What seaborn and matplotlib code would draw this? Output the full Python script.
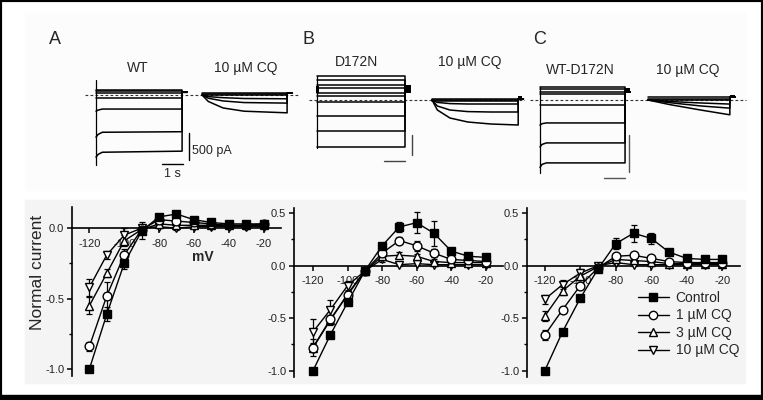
import matplotlib
matplotlib.use("Agg")
import matplotlib.pyplot as plt
from matplotlib.patches import Rectangle
from matplotlib.lines import Line2D
from matplotlib.ticker import MultipleLocator, FormatStrFormatter
import pandas as pd
import seaborn as sns

W, H = 763, 400

# ---------------- I-V data (normalised current) ----------------
mv = [-120, -110, -100, -90, -80, -70, -60, -50, -40, -30, -20]
groups = ["Control", "1 \u00b5M CQ", "3 \u00b5M CQ", "10 \u00b5M CQ"]

wt_ctrl = [-1.00, -0.61, -0.25, -0.02, 0.08, 0.10, 0.06, 0.04, 0.03, 0.03, 0.03]
wt_cq1 = [-0.84, -0.48, -0.19, -0.01, 0.06, 0.05, 0.04, 0.03, 0.02, 0.02, 0.03]
wt_cq3 = [-0.55, -0.32, -0.09, -0.01, 0.03, 0.02, 0.02, 0.02, 0.02, 0.02, 0.02]
wt_cq10 = [-0.42, -0.19, -0.05, 0.00, 0.01, 0.00, 0.01, 0.01, 0.01, 0.01, 0.01]
wt_ctrl_err = [0.00, 0.05, 0.04, 0.06, 0.02, 0.02, 0.02, 0.01, 0.01, 0.01, 0.01]
wt_cq1_err = [0.03, 0.10, 0.04, 0.02, 0.02, 0.02, 0.01, 0.01, 0.01, 0.01, 0.01]
wt_cq3_err = [0.06, 0.03, 0.04, 0.02, 0.01, 0.01, 0.01, 0.01, 0.01, 0.01, 0.01]
wt_cq10_err = [0.06, 0.03, 0.05, 0.02, 0.01, 0.01, 0.01, 0.01, 0.01, 0.01, 0.01]

dn_ctrl = [-1.00, -0.66, -0.35, -0.05, 0.19, 0.37, 0.41, 0.31, 0.14, 0.09, 0.08]
dn_cq1 = [-0.78, -0.51, -0.28, -0.05, 0.12, 0.24, 0.19, 0.12, 0.06, 0.05, 0.04]
dn_cq3 = [-0.78, -0.52, -0.27, -0.05, 0.09, 0.10, 0.09, 0.04, 0.03, 0.03, 0.03]
dn_cq10 = [-0.63, -0.42, -0.19, -0.05, 0.06, 0.01, 0.02, 0.01, 0.01, 0.01, 0.01]
dn_ctrl_err = [0.00, 0.03, 0.02, 0.02, 0.03, 0.05, 0.10, 0.12, 0.03, 0.02, 0.02]
dn_cq1_err = [0.04, 0.04, 0.03, 0.02, 0.03, 0.03, 0.05, 0.04, 0.02, 0.02, 0.02]
dn_cq3_err = [0.08, 0.04, 0.03, 0.02, 0.03, 0.03, 0.02, 0.02, 0.01, 0.01, 0.01]
dn_cq10_err = [0.12, 0.09, 0.04, 0.02, 0.02, 0.01, 0.01, 0.01, 0.01, 0.01, 0.01]

het_ctrl = [-1.00, -0.63, -0.31, -0.03, 0.21, 0.31, 0.26, 0.13, 0.07, 0.06, 0.06]
het_cq1 = [-0.66, -0.42, -0.19, -0.02, 0.09, 0.10, 0.07, 0.04, 0.03, 0.03, 0.03]
het_cq3 = [-0.48, -0.24, -0.10, -0.01, 0.06, 0.05, 0.04, 0.02, 0.02, 0.02, 0.02]
het_cq10 = [-0.32, -0.18, -0.07, 0.00, 0.03, 0.01, 0.01, 0.01, 0.01, 0.01, 0.01]
het_ctrl_err = [0.00, 0.02, 0.02, 0.02, 0.05, 0.08, 0.05, 0.02, 0.02, 0.01, 0.01]
het_cq1_err = [0.05, 0.03, 0.03, 0.02, 0.02, 0.02, 0.02, 0.01, 0.01, 0.01, 0.01]
het_cq3_err = [0.05, 0.04, 0.04, 0.02, 0.01, 0.01, 0.01, 0.01, 0.01, 0.01, 0.01]
het_cq10_err = [0.04, 0.04, 0.04, 0.02, 0.01, 0.01, 0.01, 0.01, 0.01, 0.01, 0.01]

markers = ["s", "o", "^", "v"]
faces = ["black", "white", "white", "white"]

# ---------------- current traces (nA vs s) ----------------
# WT, control: samples at these times
wt_t = [0, 0.1, 0.3, 4.1]
wt_sweeps = [[0.10] * 4, [0.07] * 4, [0.04] * 4, [-0.06] * 4,
             [-0.30, -0.28, -0.26, -0.26],
             [-0.78, -0.73, -0.69, -0.68],
             [-1.15, -1.10, -1.06, -1.04]]
wt_tail = 0.05
wt_cap = [0.28, -1.30]
# WT, 10 uM CQ
wtcq_t = [0, 0.3, 1.0, 2.0, 4.05]
wtcq_sweeps = [[0.04] * 5, [0.02] * 5, [0.0] * 5,
               [0, -0.03, -0.05, -0.065, -0.07],
               [0, -0.06, -0.11, -0.14, -0.15],
               [0, -0.12, -0.24, -0.30, -0.33]]
wtcq_tail = 0.04

# D172N, control
dn_t = [0, 4.19]
dn_levels = [0.60, 0.50, 0.375, 0.30, 0.175, 0.10, -0.05, -0.40, -0.775, -1.175]
dn_tail = 0.30
dn_cap = [0.60, -1.20]
# D172N, 10 uM CQ
dncq_t = [0, 0.25, 0.85, 1.7, 2.8, 4.1]
dncq_sweeps = [[0.025] * 6, [0.0] * 6, [-0.02] * 6,
               [0, -0.06, -0.09, -0.10, -0.10, -0.10],
               [0, -0.15, -0.25, -0.29, -0.30, -0.30],
               [0, -0.25, -0.45, -0.55, -0.60, -0.625]]
dncq_tail = 0.03

# WT-D172N, control
het_t = [0, 0.1, 0.3, 4.05]
het_sweeps = [[0.176] * 4, [0.149] * 4, [0.108] * 4, [0.081] * 4, [-0.068] * 4,
              [-0.34, -0.32, -0.31, -0.31],
              [-0.635, -0.60, -0.58, -0.58],
              [-0.91, -0.87, -0.85, -0.85]]
het_tail = 0.11
het_cap = [0.176, -0.99]
# WT-D172N, 10 uM CQ
hetcq_t = [0, 1.0, 2.5, 3.9]
hetcq_sweeps = [[0.04] * 4, [0.02] * 4, [0.0] * 4,
                [0, -0.02, -0.04, -0.055],
                [0, -0.035, -0.08, -0.11],
                [0, -0.06, -0.135, -0.20]]
hetcq_tail = 0.04


def box(x0, y0, x1, y1):
    """pixel box (top-left origin) -> figure fraction rect"""
    return [x0 / W, 1 - y1 / H, (x1 - x0) / W, (y1 - y0) / H]


sns.set_style("ticks")
plt.rcParams["font.family"] = ["Liberation Sans", "DejaVu Sans"]
plt.rcParams["axes.unicode_minus"] = False

fig = plt.figure(figsize=(W / 100, H / 100), dpi=100)
fig.patch.set_facecolor("white")
fig.add_artist(Rectangle((25 / W, 1 - 190 / H), 720 / W, 177 / H,
                         transform=fig.transFigure, color="#fcfcfc", zorder=-10))
fig.add_artist(Rectangle((25 / W, 1 - 383 / H), 720 / W, 183 / H,
                         transform=fig.transFigure, color="#f4f4f4", zorder=-10))


# ---------------- traces ----------------
def trace_axes(x0, x1, t0x, zero_y, pps, ppn):
    ax = fig.add_axes(box(x0, 45, x1, 190))
    ax.set_xlim((x0 - t0x) / pps, (x1 - t0x) / pps)
    ax.set_ylim((zero_y - 190) / ppn, (zero_y - 45) / ppn)
    ax.axis("off")
    return ax


def draw_traces(ax, t, sweeps, tail, offset=0.0):
    rows = []
    for k, s in enumerate(sweeps):
        tt = list(t) + [t[-1], t[-1] + 0.25]
        ii = list(s) + [tail, tail]
        for a, b in zip(tt, ii):
            rows.append({"t": a + offset, "I": b, "sweep": k})
    df = pd.DataFrame(rows)
    sns.lineplot(data=df, x="t", y="I", units="sweep", estimator=None, sort=False,
                 color="black", lw=1.1, ax=ax, legend=False)


def scale_bars(ax, tx, i_top, ty, t_left, color):
    ax.plot([tx, tx], [i_top, i_top - 0.5], color=color, lw=1)
    ax.plot([t_left, t_left + 1.0], [ty, ty], color=color, lw=1)


def zero_line(ax, t_from, t_to):
    ax.plot([t_from, t_to], [0, 0], color="#333333", lw=0.8, ls=(0, (2.5, 2)))


axA = trace_axes(80, 300, 96, 95, 21, 54)
zero_line(axA, -0.52, 9.7)
draw_traces(axA, wt_t, wt_sweeps, wt_tail)
axA.plot([0, 0], wt_cap, color="black", lw=0.9)
draw_traces(axA, wtcq_t, wtcq_sweeps, wtcq_tail, offset=5.05)
scale_bars(axA, 4.43, -0.70, -1.28, 3.14, "black")
axA.text(4.55, -1.03, "500 pA", fontsize=9, ha="left", va="center")
axA.text(3.64, -1.47, "1 s", fontsize=9, ha="center", va="center")

axB = trace_axes(300, 525, 317, 100, 21, 40)
zero_line(axB, -0.4, 9.9)
draw_traces(axB, dn_t, [[v, v] for v in dn_levels], dn_tail)
axB.plot([0, 0], dn_cap, color="black", lw=0.9)
axB.fill_between([-0.05, 0.08], 0.175, 0.35, color="black", lw=0)
axB.fill_between([4.19, 4.48], 0.175, 0.375, color="black", lw=0)
draw_traces(axB, dncq_t, dncq_sweeps, dncq_tail, offset=5.48)
axB.fill_between([9.58, 9.78], 0.0, 0.1, color="black", lw=0)
scale_bars(axB, 4.52, -0.875, -1.525, 3.19, "#444444")

axC = trace_axes(525, 750, 540, 100, 21, 74)
zero_line(axC, -0.5, 9.8)
draw_traces(axC, het_t, het_sweeps, het_tail)
axC.plot([0, 0], het_cap, color="black", lw=0.9)
axC.fill_between([4.05, 4.29], 0.09, 0.16, color="black", lw=0)
draw_traces(axC, hetcq_t, hetcq_sweeps, hetcq_tail, offset=5.14)
axC.fill_between([9.04, 9.28], 0.03, 0.07, color="black", lw=0)
scale_bars(axC, 4.24, -0.47, -1.05, 3.05, "#555555")

# panel letters and trace titles
for x, y, s in [(49, 39, "A"), (303, 40, "B"), (533, 40, "C")]:
    fig.text(x / W, 1 - y / H, s, fontsize=13, ha="left", va="center")
for x, y, s in [(138, 68, "WT"), (246, 68, "10 \u00b5M CQ"),
                (357, 62, "D172N"), (470, 62, "10 \u00b5M CQ"),
                (580, 70, "WT-D172N"), (688, 70, "10 \u00b5M CQ")]:
    fig.text(x / W, 1 - y / H, s, fontsize=10, ha="center", va="center")


# ---------------- I-V plots ----------------
def iv_axes(x0, y0, x1, y1, xlim, ylim, yticks):
    ax = fig.add_axes(box(x0, y0, x1, y1))
    ax.set_facecolor("none")
    ax.set_xlim(*xlim)
    ax.set_ylim(*ylim)
    for side in ["top", "right"]:
        ax.spines[side].set_visible(False)
    ax.spines["bottom"].set_position(("data", 0))
    for side in ["left", "bottom"]:
        ax.spines[side].set_linewidth(1.2)
        ax.spines[side].set_color("black")
    ax.set_xticks([-120, -100, -80, -60, -40, -20])
    ax.set_yticks(yticks)
    ax.yaxis.set_minor_locator(MultipleLocator(0.25))
    ax.yaxis.set_major_formatter(FormatStrFormatter("%.1f"))
    ax.tick_params(which="major", direction="out", length=3.5, width=1.1,
                   labelsize=8, pad=2, color="black", labelcolor="#222222")
    ax.tick_params(which="minor", direction="out", length=2, width=1, color="black")
    ax.tick_params(axis="x", pad=4)
    ax.set_xlabel("")
    ax.set_ylabel("")
    return ax


def draw_iv(ax, series, errs):
    order = [3, 2, 1, 0]
    for k in order:
        df = pd.DataFrame({"mV": mv, "I": series[k]})
        ax.errorbar(mv, series[k], yerr=errs[k], fmt="none", ecolor="black",
                    elinewidth=0.9, capsize=2.5, capthick=0.9, zorder=2)
        sns.lineplot(data=df, x="mV", y="I", ax=ax, color="black", lw=1,
                     marker=markers[k], markersize=6.3 if k else 5.8,
                     markerfacecolor=faces[k], markeredgecolor="black",
                     markeredgewidth=1, legend=False, zorder=3)
    ax.set_xlabel("")
    ax.set_ylabel("")


iv1 = iv_axes(72, 207, 281, 376, (-130, -10), (-1.05, 0.15), [-1.0, -0.5, 0.0])
draw_iv(iv1, [wt_ctrl, wt_cq1, wt_cq3, wt_cq10],
        [wt_ctrl_err, wt_cq1_err, wt_cq3_err, wt_cq10_err])
iv1.text(-55, -0.205, "mV", fontsize=10, fontweight="bold", ha="center", va="center")

iv2 = iv_axes(294, 208, 503, 377, (-131, -10), (-1.06, 0.55), [-1.0, -0.5, 0.0, 0.5])
draw_iv(iv2, [dn_ctrl, dn_cq1, dn_cq3, dn_cq10],
        [dn_ctrl_err, dn_cq1_err, dn_cq3_err, dn_cq10_err])

iv3 = iv_axes(527, 208, 740, 377, (-130, -10), (-1.06, 0.55), [-1.0, -0.5, 0.0, 0.5])
draw_iv(iv3, [het_ctrl, het_cq1, het_cq3, het_cq10],
        [het_ctrl_err, het_cq1_err, het_cq3_err, het_cq10_err])

fig.text(37 / W, 1 - 272 / H, "Normal current", fontsize=12.5, rotation=90,
         ha="center", va="center")

handles = [Line2D([], [], color="black", lw=1, marker=m, markersize=6,
                  markerfacecolor=f, markeredgecolor="black") for m, f in zip(markers, faces)]
fig.legend(handles, groups, loc="upper left", bbox_to_anchor=(638 / W, 1 - 291 / H),
           bbox_transform=fig.transFigure, frameon=False, fontsize=10,
           handlelength=2.2, handletextpad=0.5, labelspacing=0.25,
           borderpad=0, borderaxespad=0)

# black frame
fig.add_artist(Rectangle((0, 0), 1, 1, transform=fig.transFigure, fill=False,
                         ec="black", lw=3, zorder=20))
fig.add_artist(Rectangle((0, 0), 1, 5 / H, transform=fig.transFigure,
                         color="black", zorder=20))

fig.savefig("out.png", dpi=100, facecolor=fig.get_facecolor())
